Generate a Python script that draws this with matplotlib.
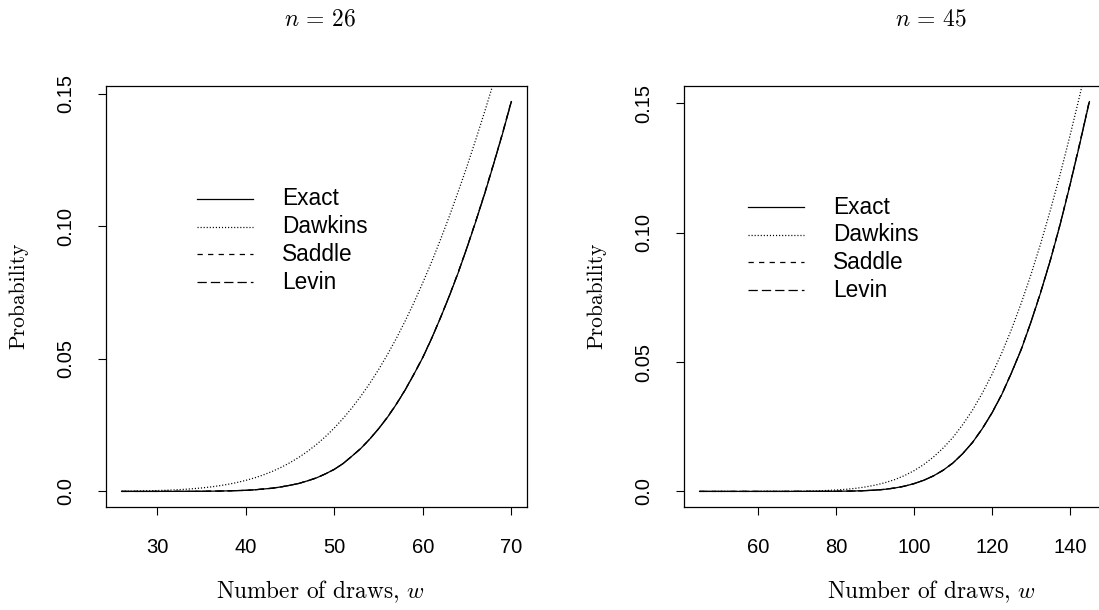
import matplotlib
matplotlib.use('Agg')
import matplotlib.pyplot as plt
from matplotlib.lines import Line2D

# n = 26 panel, w = 26..70
w26 = list(range(26, 71))
exact26 = [0, 0, 0, 0, 0, 0.00001, 0.00001, 0.00002, 0.00003, 0.00005, 0.00008, 0.00013, 0.0002, 0.0003,
           0.0004, 0.0006, 0.0009, 0.0012, 0.0017, 0.0023, 0.0030, 0.0040, 0.0051, 0.0066, 0.0083, 0.0105,
           0.0133, 0.0162, 0.0197, 0.0236, 0.0279, 0.0328, 0.0382, 0.0442, 0.0505, 0.0577, 0.0655, 0.0737,
           0.0825, 0.0920, 0.1020, 0.1124, 0.1235, 0.1349, 0.1470]
dawkins26 = [0.00008, 0.00012, 0.00017, 0.00023, 0.00032, 0.00043, 0.00057, 0.00076, 0.00100, 0.00129,
             0.00166, 0.00212, 0.00267, 0.00334, 0.00414, 0.00509, 0.00622, 0.00753, 0.00906, 0.01082,
             0.01283, 0.01512, 0.01771, 0.02062, 0.02388, 0.02751, 0.03149, 0.03590, 0.04067, 0.04588,
             0.05155, 0.05764, 0.06421, 0.07121, 0.07870, 0.08658, 0.09500, 0.1038, 0.1131, 0.1227,
             0.1329, 0.1434, 0.1543, 0.1655, 0.1772]
saddle26 = [0, 0, 0, 0, 0, 0.00001, 0.00001, 0.00002, 0.00003, 0.00005, 0.00008, 0.00013, 0.0002, 0.0003,
            0.0004, 0.0006, 0.0009, 0.0012, 0.0017, 0.0023, 0.0030, 0.0040, 0.0051, 0.0066, 0.0083, 0.0105,
            0.0133, 0.0162, 0.0197, 0.0236, 0.0280, 0.0329, 0.0383, 0.0443, 0.0506, 0.0578, 0.0656, 0.0739,
            0.0827, 0.0922, 0.1022, 0.1127, 0.1238, 0.1352, 0.1474]
levin26 = [0, 0, 0, 0, 0, 0.00001, 0.00001, 0.00002, 0.00003, 0.00005, 0.00008, 0.00013, 0.0002, 0.0003,
           0.0004, 0.0006, 0.0009, 0.0012, 0.0017, 0.0023, 0.0030, 0.0040, 0.0051, 0.0066, 0.0083, 0.0105,
           0.0133, 0.0162, 0.0197, 0.0236, 0.0279, 0.0328, 0.0382, 0.0442, 0.0505, 0.0577, 0.0655, 0.0738,
           0.0826, 0.0921, 0.1021, 0.1125, 0.1236, 0.1350, 0.1472]

# n = 45 panel, w = 45..145 in steps of 2.5
w45 = [45 + 2.5 * i for i in range(41)]
exact45 = [0, 0, 0, 0, 0, 0, 0, 0, 0, 0, 0.00001, 0.00001, 0.00002, 0.00003, 0.00005, 0.0001, 0.00017,
           0.0003, 0.0005, 0.0008, 0.0013, 0.0020, 0.0030, 0.0043, 0.0060, 0.0082, 0.0110, 0.0146, 0.0189,
           0.0242, 0.0303, 0.0374, 0.0458, 0.0548, 0.0654, 0.0769, 0.0894, 0.1032, 0.1183, 0.1341, 0.1507]
dawkins45 = [0, 0, 0, 0.000001, 0.000002, 0.000004, 0.000008, 0.000015, 0.00003, 0.00005, 0.00008, 0.00014,
             0.00022, 0.00035, 0.00054, 0.0008, 0.00118, 0.00171, 0.00241, 0.00334, 0.00453, 0.00607, 0.0080,
             0.01038, 0.0133, 0.01679, 0.0209, 0.02581, 0.0314, 0.0379, 0.0452, 0.05347, 0.0626, 0.07274,
             0.0838, 0.0958, 0.1088, 0.12262, 0.1374, 0.15292, 0.1692]
saddle45 = [0, 0, 0, 0, 0, 0, 0, 0, 0, 0, 0.00001, 0.00001, 0.00002, 0.00003, 0.00005, 0.0001, 0.00017,
            0.0003, 0.0005, 0.0008, 0.0013, 0.0020, 0.0030, 0.0043, 0.0060, 0.0082, 0.0110, 0.0146, 0.0189,
            0.0242, 0.0304, 0.0375, 0.0459, 0.0549, 0.0655, 0.0771, 0.0896, 0.1034, 0.1186, 0.1345, 0.1511]
levin45 = [0, 0, 0, 0, 0, 0, 0, 0, 0, 0, 0.00001, 0.00001, 0.00002, 0.00003, 0.00005, 0.0001, 0.00017,
           0.0003, 0.0005, 0.0008, 0.0013, 0.0020, 0.0030, 0.0043, 0.0060, 0.0082, 0.0110, 0.0146, 0.0189,
           0.0242, 0.0303, 0.0374, 0.0458, 0.0549, 0.0655, 0.0770, 0.0895, 0.1033, 0.1184, 0.1343, 0.1509]

labels = ['Exact', 'Dawkins', 'Saddle', 'Levin']

plt.rcParams['font.family'] = ['Liberation Sans', 'DejaVu Sans']
plt.rcParams['mathtext.fontset'] = 'cm'
plt.rcParams['lines.scale_dashes'] = False

W, H = 1099, 610
fig = plt.figure(figsize=(W / 100, H / 100), dpi=100)

styles = [dict(linestyle='-'),
          dict(linestyle=(0, (0.8, 1.4))),
          dict(linestyle=(0, (3.8, 3.8))),
          dict(linestyle=(0, (6.7, 2.9)))]

def px(x, y):
    return x / W, 1 - y / H

def panel(left, xs, series, xticks, title, cx, leg_x, leg_y):
    ax = fig.add_axes([left / W, 1 - 507 / H, 421 / W, 421 / H])
    for ys, st in zip(series, styles):
        ax.plot(xs, ys, color='black', lw=0.9, **st)
    rx = max(xs) - min(xs)
    ry = max(series[0]) - min(series[0])
    ax.set_xlim(min(xs) - 0.04 * rx, max(xs) + 0.04 * rx)
    ax.set_ylim(min(series[0]) - 0.04 * ry, max(series[0]) + 0.04 * ry)
    ax.set_xticks(xticks)
    ax.set_xticklabels([str(t) for t in xticks])
    ax.set_yticks([0, 0.05, 0.10, 0.15])
    ax.set_yticklabels(['0.0', '0.05', '0.10', '0.15'], rotation=90, va='center')
    ax.tick_params(length=6, width=0.8, labelsize=14.5, pad=16)
    for s in ax.spines.values():
        s.set_linewidth(0.9)
    # titles and axis labels
    fig.text(*px(cx, 19), title, ha='center', va='center', fontsize=17)
    fig.text(*px(cx, 592), 'Number of draws, $w$', family='cmr10', ha='center', va='center', fontsize=16.8)
    fig.text(*px(left - 87, 296), 'Probability', family='cmr10', rotation=90, ha='center', va='center', fontsize=15.5)
    # legend without box
    for i, (lab, st) in enumerate(zip(labels, styles)):
        y = leg_y + i * 27.7
        x0, y0 = px(leg_x, y)
        x1, _ = px(leg_x + 56, y)
        fig.add_artist(Line2D([x0, x1], [y0, y0], color='black', lw=0.9, **st))
        fig.text(*px(leg_x + 85, y), lab, ha='left', va='center', fontsize=16.3)
    return ax

panel(106, w26, [exact26, dawkins26, saddle26, levin26], [30, 40, 50, 60, 70], r'$n\,=\,26$', 320, 197, 199)
panel(684, w45, [exact45, dawkins45, saddle45, levin45], [60, 80, 100, 120, 140], r'$n\,=\,45$', 931, 748, 207)

fig.savefig('out.png', dpi=100)
